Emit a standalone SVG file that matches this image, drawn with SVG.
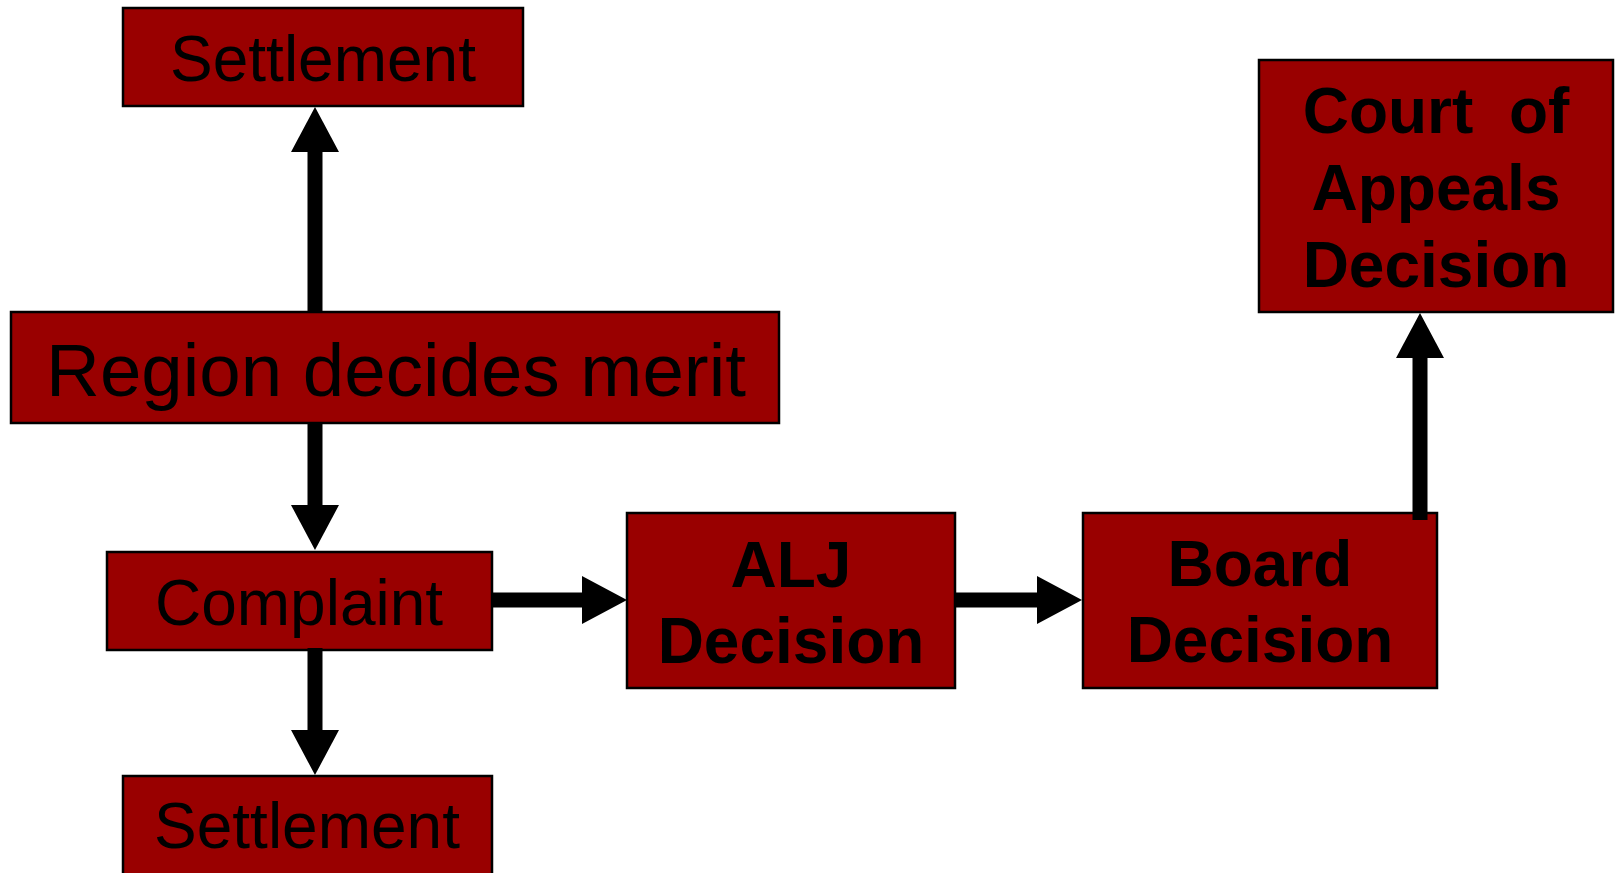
<svg xmlns="http://www.w3.org/2000/svg" width="1618" height="873" viewBox="0 0 1618 873">
<style>
.box{fill:#990000;stroke:#000;stroke-width:2.5}
.t{font-family:"Liberation Sans",Arial,sans-serif;fill:#000;text-anchor:middle}
.n{font-size:64px}
.b{font-size:64px;font-weight:bold;white-space:pre}
.big{font-size:74.5px}
.c{stroke:#000;stroke-width:15;fill:none;marker-end:url(#ah)}
</style>
<defs>
<marker id="ah" viewBox="0 0 45 48" markerWidth="45" markerHeight="48" refX="0" refY="24" orient="auto" markerUnits="userSpaceOnUse">
<path d="M0,0 L45,24 L0,48 Z" fill="#000"/>
</marker>
</defs>
<g id="settlement-top">
<rect class="box" x="123" y="8" width="400" height="98"/>
<text class="t n" x="323" y="81">Settlement</text>
</g>
<g id="region">
<rect class="box" x="11" y="312" width="768" height="111"/>
<text class="t big" x="396" y="396">Region decides merit</text>
</g>
<g id="complaint">
<rect class="box" x="107" y="552" width="385" height="98"/>
<text class="t n" x="299" y="625">Complaint</text>
</g>
<g id="settlement-bottom">
<rect class="box" x="123" y="776" width="369" height="110"/>
<text class="t n" x="307" y="848">Settlement</text>
</g>
<g id="alj">
<rect class="box" x="627" y="513" width="328" height="175"/>
<text class="t b" x="791" y="587">ALJ</text>
<text class="t b" x="791" y="663">Decision</text>
</g>
<g id="board">
<rect class="box" x="1083" y="513" width="354" height="175"/>
<text class="t b" x="1260" y="586">Board</text>
<text class="t b" x="1260" y="662">Decision</text>
</g>
<g id="court">
<rect class="box" x="1259" y="60" width="354" height="252"/>
<text class="t b" x="1436" y="133">Court  of</text>
<text class="t b" x="1436" y="210">Appeals</text>
<text class="t b" x="1436" y="287">Decision</text>
</g>
<g id="connectors">
<line class="c" x1="315" y1="312" x2="315" y2="152"/>
<line class="c" x1="315" y1="424" x2="315" y2="505"/>
<line class="c" x1="315" y1="648" x2="315" y2="730"/>
<line class="c" x1="493" y1="600" x2="582" y2="600"/>
<line class="c" x1="956" y1="600" x2="1037" y2="600"/>
<line class="c" x1="1420" y1="520" x2="1420" y2="358"/>
</g>
</svg>
